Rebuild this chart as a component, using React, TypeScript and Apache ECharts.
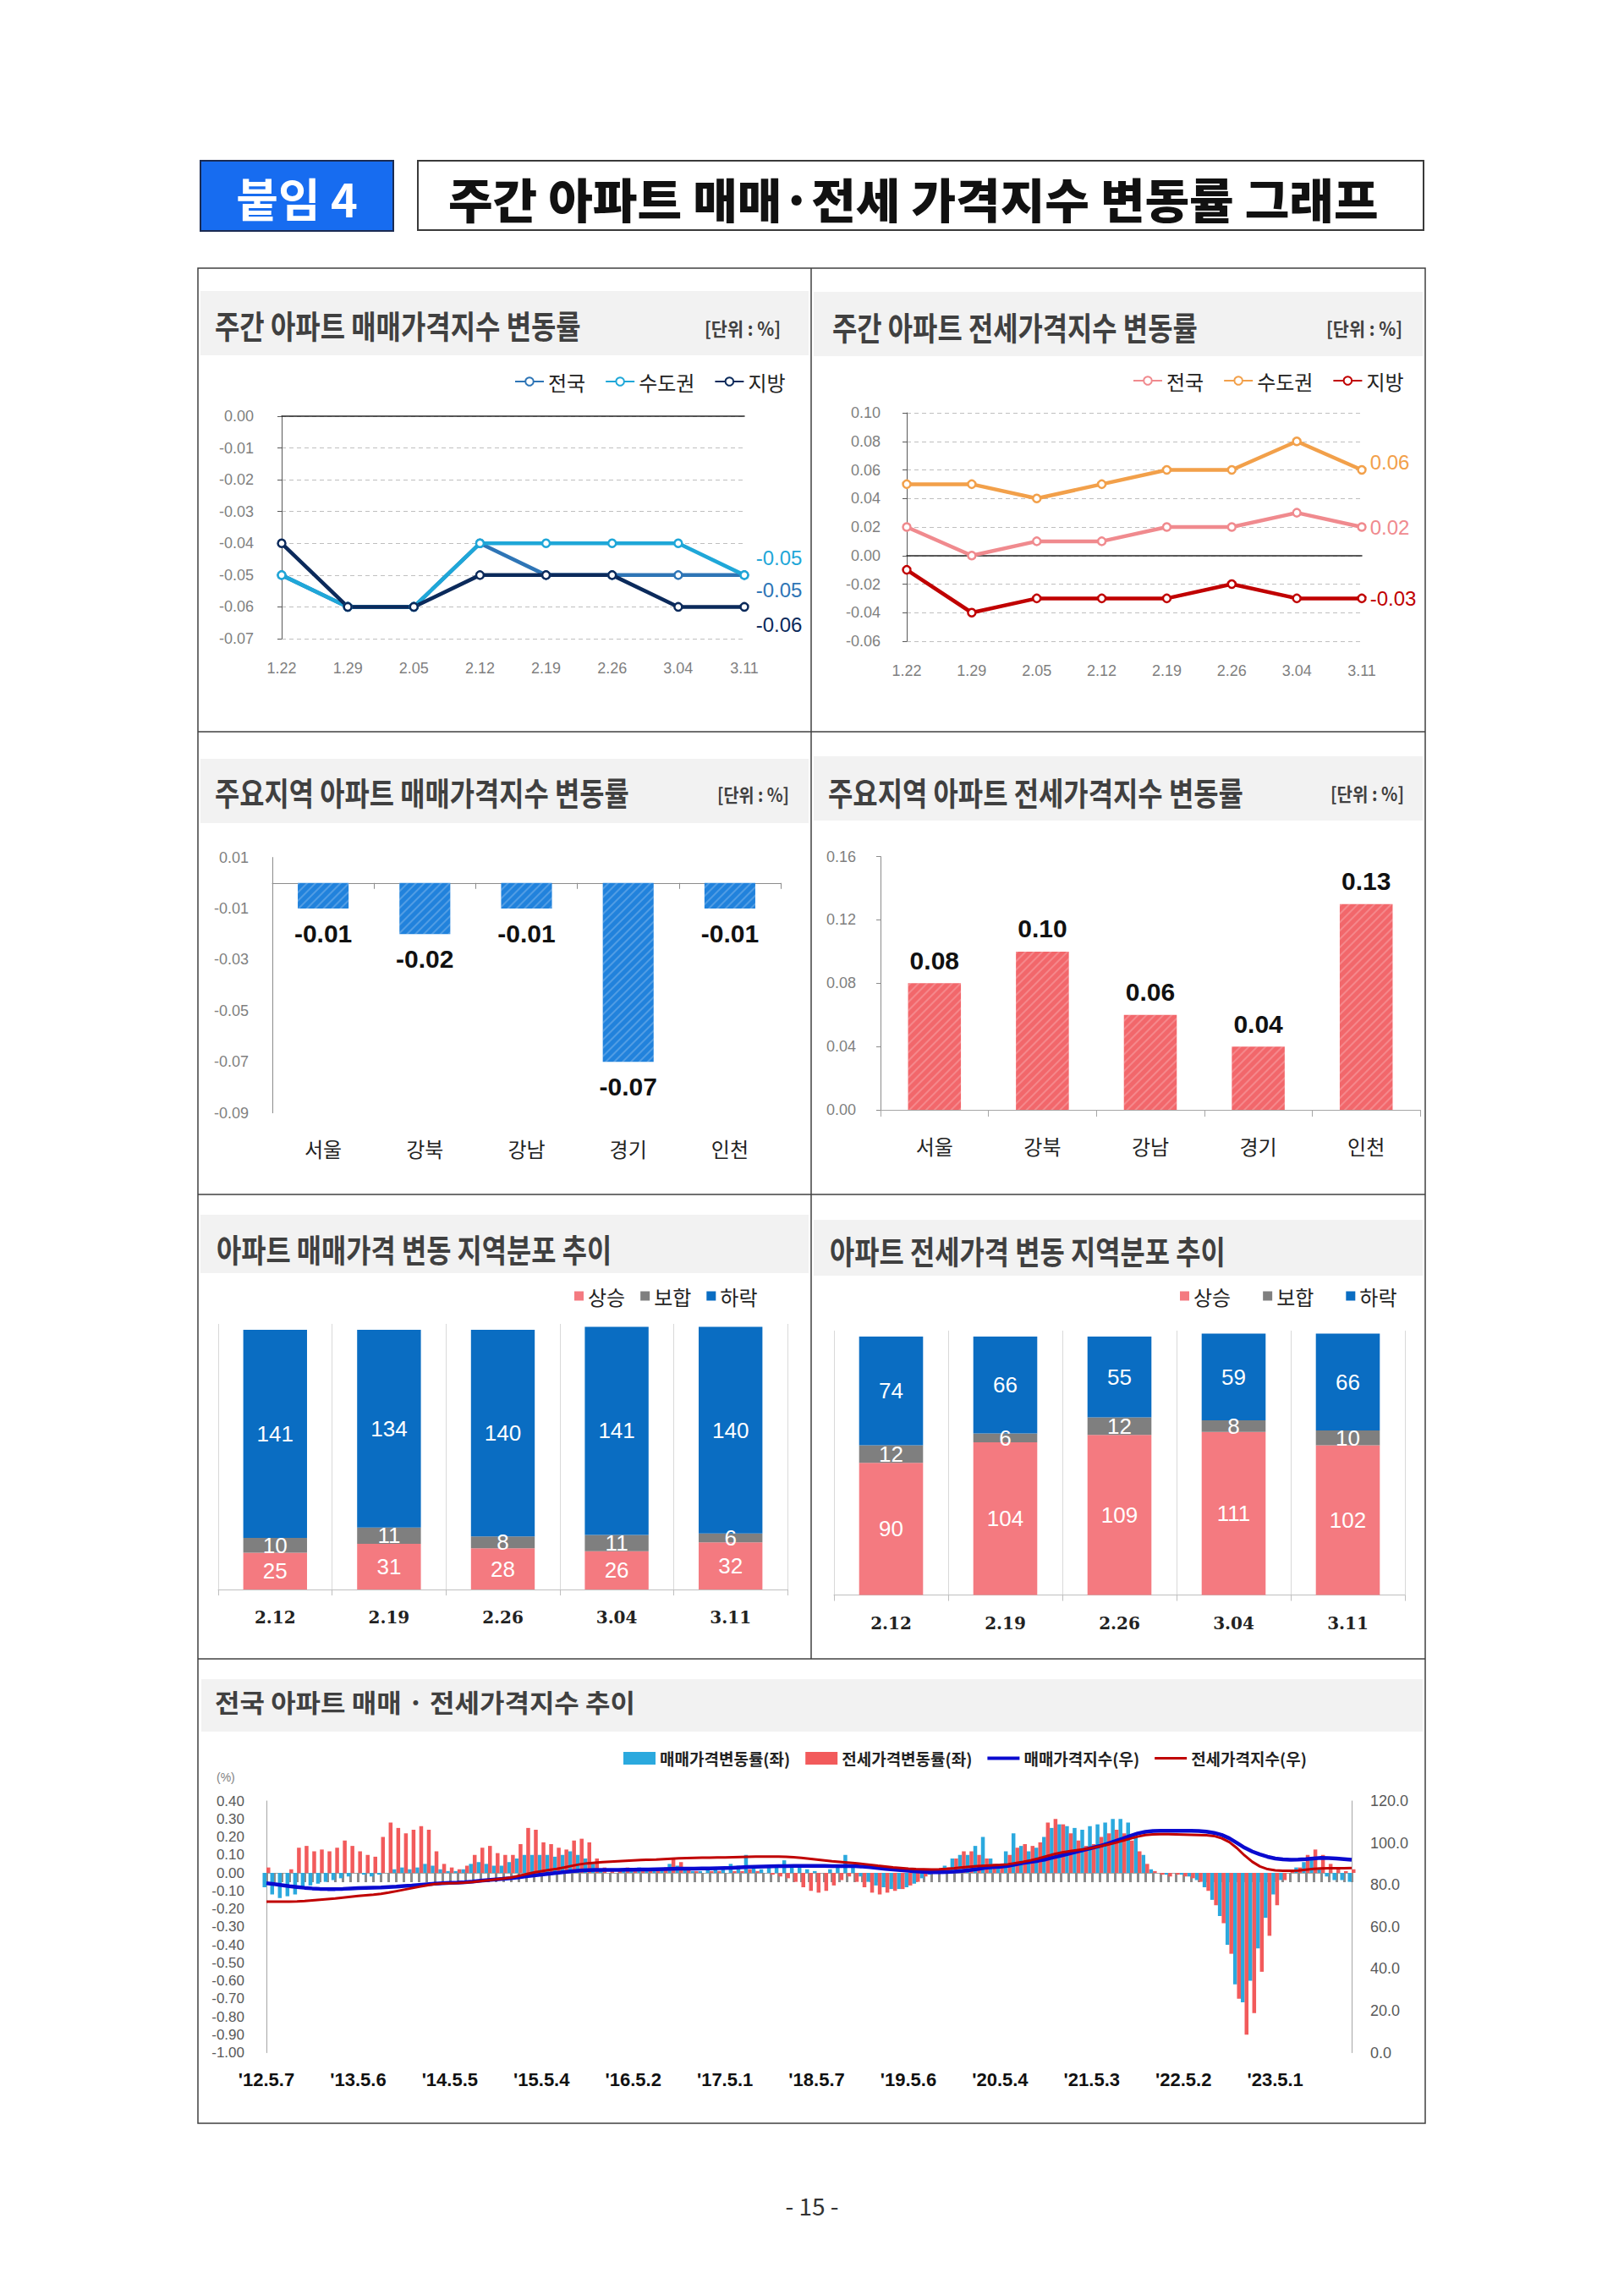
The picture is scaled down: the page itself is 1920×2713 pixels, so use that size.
import React, { useEffect, useRef } from 'react';
import * as echarts from 'echarts';

// ---------- data ----------
const weeks = ['1.22', '1.29', '2.05', '2.12', '2.19', '2.26', '3.04', '3.11'];
const saleNation = [-0.05, -0.06, -0.06, -0.04, -0.05, -0.05, -0.05, -0.05];
const saleCapital = [-0.05, -0.06, -0.06, -0.04, -0.04, -0.04, -0.04, -0.05];
const saleLocal = [-0.04, -0.06, -0.06, -0.05, -0.05, -0.05, -0.06, -0.06];
const jeonseNation = [0.02, 0.0, 0.01, 0.01, 0.02, 0.02, 0.03, 0.02];
const jeonseCapital = [0.05, 0.05, 0.04, 0.05, 0.06, 0.06, 0.08, 0.06];
const jeonseLocal = [-0.01, -0.04, -0.03, -0.03, -0.03, -0.02, -0.03, -0.03];

const regions = ['서울', '강북', '강남', '경기', '인천'];
const regionSale = [-0.01, -0.02, -0.01, -0.07, -0.01];
const regionJeonse = [0.08, 0.1, 0.06, 0.04, 0.13];

const distWeeks = ['2.12', '2.19', '2.26', '3.04', '3.11'];
const saleUp = [25, 31, 28, 26, 32];
const saleFlat = [10, 11, 8, 11, 6];
const saleDown = [141, 134, 140, 141, 140];
const jeonseUp = [90, 104, 109, 111, 102];
const jeonseFlat = [12, 6, 12, 8, 10];
const jeonseDown = [74, 66, 55, 59, 66];

// monthly, 2012.05 ~ 2024.03
const trendTickLabels = ["'12.5.7", "'13.5.6", "'14.5.5", "'15.5.4", "'16.5.2", "'17.5.1", "'18.5.7", "'19.5.6", "'20.5.4", "'21.5.3", "'22.5.2", "'23.5.1"];
const saleRate = [
  -0.08, -0.12, -0.14, -0.13, -0.12, -0.08, -0.07, -0.06,
  -0.05, -0.04, -0.03, -0.02, 0.0, -0.01, -0.02, -0.01, 0.0, 0.02, 0.03, 0.02,
  0.03, 0.05, 0.04, 0.02, 0.01, 0.01, 0.02, 0.05, 0.06, 0.05, 0.04, 0.04,
  0.06, 0.08, 0.1, 0.1, 0.1, 0.1, 0.09, 0.1, 0.12, 0.1, 0.08, 0.05,
  0.01, 0.0, 0.0, 0.01, 0.02, 0.03, 0.02, 0.02, 0.02, 0.05, 0.04, 0.02,
  0.01, 0.01, 0.02, 0.02, 0.03, 0.05, 0.04, 0.1, 0.03, 0.02, 0.03, 0.03,
  0.07, 0.04, 0.03, 0.02, 0.01, 0.0, 0.02, 0.04, 0.1, 0.03, -0.02, -0.05,
  -0.07, -0.08, -0.09, -0.09, -0.08, -0.06, -0.03, -0.01, 0.01, 0.04, 0.08, 0.1,
  0.1, 0.15, 0.2, 0.08, 0.05, 0.12, 0.22, 0.15, 0.12, 0.14, 0.2, 0.25,
  0.27, 0.26, 0.25, 0.24, 0.26, 0.27, 0.28, 0.3, 0.3, 0.28, 0.2, 0.1,
  0.02, 0.0, -0.01, 0.0, -0.01, -0.02, -0.04, -0.08, -0.15, -0.24, -0.4, -0.62,
  -0.72, -0.6, -0.42, -0.25, -0.12, -0.04, 0.0, 0.03, 0.06, 0.08, 0.03, -0.02,
  -0.04, -0.04, -0.05,
];
const jeonseRate = [
  0.03, 0.0, 0.0, 0.02, 0.14, 0.15, 0.12, 0.13,
  0.12, 0.14, 0.18, 0.15, 0.12, 0.1, 0.09, 0.2, 0.28, 0.25, 0.22, 0.24,
  0.26, 0.24, 0.12, 0.05, 0.03, 0.02, 0.04, 0.1, 0.14, 0.15, 0.11, 0.1,
  0.1, 0.16, 0.25, 0.24, 0.17, 0.16, 0.14, 0.13, 0.18, 0.19, 0.17, 0.08,
  0.03, 0.02, 0.02, 0.03, 0.02, 0.02, 0.01, 0.02, 0.03, 0.08, 0.06, 0.03,
  0.01, 0.0, 0.01, 0.01, 0.0, 0.01, 0.01, 0.02, 0.01, 0.0, -0.01, -0.02,
  -0.03, -0.05, -0.08, -0.1, -0.11, -0.1, -0.07, -0.04, -0.02, -0.05, -0.08, -0.11,
  -0.12, -0.11, -0.1, -0.09, -0.07, -0.05, -0.02, 0.0, 0.01, 0.03, 0.08, 0.12,
  0.12, 0.1, 0.08, 0.05, 0.05, 0.1, 0.14, 0.16, 0.15, 0.17, 0.28, 0.3,
  0.27, 0.22, 0.18, 0.15, 0.16, 0.2, 0.22, 0.24, 0.22, 0.18, 0.12, 0.05,
  0.01, -0.01, -0.02, -0.01, -0.02, -0.03, -0.05, -0.1, -0.18, -0.28, -0.45, -0.7,
  -0.9, -0.78, -0.55, -0.35, -0.18, -0.04, 0.01, 0.03, 0.1, 0.13, 0.1, 0.05,
  0.02, 0.01, 0.02,
];
const saleIndex = [
  80.8, 80.4, 79.9, 79.4, 79.0, 78.6, 78.3, 78.1,
  78.0, 78.0, 78.1, 78.3, 78.5, 78.6, 78.7, 78.8, 79.0, 79.2, 79.5, 79.7,
  80.0, 80.3, 80.6, 80.8, 81.0, 81.1, 81.3, 81.6, 82.0, 82.3, 82.6, 82.9,
  83.2, 83.6, 84.1, 84.5, 84.9, 85.3, 85.7, 86.1, 86.5, 86.8, 87.0, 87.1,
  87.1, 87.1, 87.1, 87.2, 87.2, 87.3, 87.3, 87.4, 87.5, 87.6, 87.7, 87.7,
  87.7, 87.8, 87.8, 87.9, 88.0, 88.1, 88.3, 88.5, 88.6, 88.7, 88.8, 88.9,
  88.9, 89.0, 89.0, 89.0, 89.0, 89.0, 88.9, 88.9, 89.0, 88.9, 88.7, 88.4,
  88.0, 87.6, 87.3, 87.0, 86.7, 86.4, 86.2, 86.0, 86.0, 86.1, 86.3, 86.6,
  87.0, 87.5, 88.1, 88.4, 88.6, 89.0, 89.7, 90.4, 90.9, 91.5, 92.2, 93.1,
  94.0, 94.9, 95.8, 96.7, 97.6, 98.5, 99.6, 100.8, 102.0, 103.3, 104.5, 105.3,
  105.7, 105.8, 105.8, 105.8, 105.8, 105.8, 105.7, 105.4, 104.8, 103.8, 102.2, 100.0,
  97.7, 95.9, 94.5, 93.4, 92.6, 92.2, 92.0, 92.1, 92.3, 92.6, 92.9, 92.8,
  92.6, 92.3, 92.0,
];
const jeonseIndex = [
  72.0, 72.0, 72.0, 72.0, 72.1, 72.3, 72.6, 72.9,
  73.2, 73.5, 73.9, 74.3, 74.7, 75.0, 75.3, 75.7, 76.3, 77.0, 77.7, 78.4,
  79.1, 79.8, 80.4, 80.7, 80.8, 80.9, 81.1, 81.4, 81.8, 82.2, 82.6, 83.0,
  83.5, 84.3, 85.1, 85.9, 86.5, 87.1, 87.6, 88.3, 89.1, 89.8, 90.3, 90.6,
  90.9, 91.1, 91.3, 91.5, 91.7, 91.9, 92.0, 92.1, 92.3, 92.5, 92.7, 92.8,
  92.9, 93.0, 93.0, 93.1, 93.1, 93.2, 93.3, 93.4, 93.5, 93.5, 93.5, 93.5,
  93.4, 93.2, 92.9, 92.5, 92.1, 91.7, 91.3, 91.0, 90.7, 90.4, 90.0, 89.6,
  89.1, 88.7, 88.3, 88.0, 87.7, 87.5, 87.4, 87.3, 87.4, 87.6, 87.9, 88.3,
  88.6, 88.9, 89.1, 89.3, 89.5, 89.8, 90.4, 91.0, 91.7, 92.6, 93.6, 94.6,
  95.4, 96.0, 96.5, 97.0, 97.6, 98.3, 99.1, 100.0, 101.0, 102.0, 103.0, 103.8,
  104.1, 104.2, 104.2, 104.1, 104.0, 103.9, 103.8, 103.7, 103.3, 102.2, 100.4, 97.5,
  94.0, 91.0, 88.8, 87.5, 86.9, 86.7, 86.7, 86.8, 87.2, 87.6, 87.8, 87.9,
  87.9, 87.9, 88.0,
];

// ---------- helpers ----------
const KR = '"Noto Sans CJK KR", "Noto Sans", sans-serif';
const NUM = '"Liberation Sans", Arial, "Noto Sans", sans-serif';
const SERIF = '"DejaVu Serif", "Liberation Serif", serif';

const trendMonths: string[] = saleRate.map((_, i) => {
  const m = 4 + i;
  return `${2012 + Math.floor(m / 12)}.${(m % 12) + 1}`;
});

let ctx: CanvasRenderingContext2D | null = null;
function textWidth(text: string, font: string) {
  if (!ctx) ctx = document.createElement('canvas').getContext('2d');
  if (!ctx) return 0;
  ctx.font = font;
  return ctx.measureText(text).width;
}
function fitText(text: string, x: number, y: number, width: number, size: number, weight: string, color: string, family = KR) {
  const natural = textWidth(text, `${weight} ${size}px ${family}`);
  const s = natural > 0 ? width / natural : 1;
  return {
    type: 'text', x, y, scaleX: s, scaleY: 1, z: 10,
    style: { text, fontSize: size, fontWeight: weight, fontFamily: family, fill: color, textAlign: 'left', textVerticalAlign: 'middle', align: 'left', verticalAlign: 'middle' },
  };
}
const f2 = (v: number) => (Math.abs(v) < 1e-9 ? '0.00' : v.toFixed(2));
const lastLabel = (n: number, color: string, offset: number[], distance: number) => ({
  show: true, position: 'right', distance, offset, color, fontSize: 24, fontFamily: NUM,
  formatter: (p: any) => (p.dataIndex === n - 1 ? f2(p.value) : ''),
});
const hatch = { symbol: 'rect', symbolSize: 1, color: 'rgba(255,255,255,0.22)', dashArrayX: [1, 0], dashArrayY: [2, 5], rotation: -Math.PI / 4 };
const lineIcon = 'path://M0,0 L40,0 L40,4 L0,4 Z';

function lineSeries(name: string, data: number[], color: string, xi: number, yi: number, offset: number[], distance: number) {
  return {
    type: 'line', name, data, xAxisIndex: xi, yAxisIndex: yi, clip: false,
    symbol: 'circle', symbolSize: 9,
    lineStyle: { color, width: 4.5 },
    itemStyle: { color: '#fff', borderColor: color, borderWidth: 2.5 },
    label: lastLabel(data.length, color, offset, distance),
    emphasis: { disabled: true },
  };
}

function buildOption() {
  const gridText = { color: '#7F7F7F', fontSize: 18, fontFamily: NUM };
  const dashed = { show: true, lineStyle: { color: '#BFBFBF', type: [5, 4], width: 1 } };
  const legendBase = { selectedMode: false, padding: 0, formatter: (n: string) => n.split('|')[1] };

  const bands = [
    { x: 237, y: 344, w: 719, h: 76, t: '주간 아파트 매매가격지수 변동률', tx: 254, ty: 383, tw: 433, size: 38, ux: 833, uy: 387, uw: 90 },
    { x: 962, y: 345, w: 720, h: 76, t: '주간 아파트 전세가격지수 변동률', tx: 984, ty: 385, tw: 432, size: 38, ux: 1568, uy: 387, uw: 90 },
    { x: 237, y: 897, w: 719, h: 76, t: '주요지역 아파트 매매가격지수 변동률', tx: 254, ty: 935, tw: 490, size: 38, ux: 848, uy: 938, uw: 85 },
    { x: 962, y: 894, w: 720, h: 76, t: '주요지역 아파트 전세가격지수 변동률', tx: 979, ty: 935, tw: 491, size: 38, ux: 1573, uy: 938, uw: 87 },
    { x: 237, y: 1436, w: 719, h: 69, t: '아파트 매매가격 변동 지역분포 추이', tx: 256, ty: 1475, tw: 467, size: 38 },
    { x: 962, y: 1442, w: 720, h: 66, t: '아파트 전세가격 변동 지역분포 추이', tx: 981, ty: 1477, tw: 468, size: 38 },
    { x: 238, y: 1985, w: 1444, h: 62, t: '전국 아파트 매매 · 전세가격지수 추이', tx: 254, ty: 2011, tw: 497, size: 30 },
  ];

  const graphics: any[] = [];
  // header
  graphics.push({ type: 'rect', shape: { x: 237, y: 190, width: 228, height: 83 }, style: { fill: '#176CF0', stroke: '#1B2B52', lineWidth: 2 } });
  graphics.push({
    type: 'text', x: 351, y: 233, z: 10,
    style: { text: '붙임 4', fontSize: 54, fontWeight: 'bold', fontFamily: KR, fill: '#fff', textAlign: 'center', textVerticalAlign: 'middle', align: 'center', verticalAlign: 'middle', textShadowColor: 'rgba(60,60,60,0.8)', textShadowOffsetX: 3, textShadowOffsetY: 3, textShadowBlur: 0 },
  });
  graphics.push({ type: 'rect', shape: { x: 494, y: 190, width: 1189, height: 82 }, style: { fill: '#fff', stroke: '#3A3A3A', lineWidth: 2 } });
  graphics.push(fitText('주간 아파트 매매·전세 가격지수 변동률 그래프', 530, 233, 1100, 56, '900', '#111'));
  // frame
  graphics.push({ type: 'rect', shape: { x: 234, y: 317, width: 1451, height: 2193 }, style: { fill: 'none', stroke: '#404040', lineWidth: 1.5 } });
  graphics.push({ type: 'line', shape: { x1: 959, y1: 317, x2: 959, y2: 1961 }, style: { stroke: '#404040', lineWidth: 1.5 } });
  [865, 1412, 1961].forEach((yy) => graphics.push({ type: 'line', shape: { x1: 234, y1: yy, x2: 1685, y2: yy }, style: { stroke: '#404040', lineWidth: 1.5 } }));
  // bands + titles
  bands.forEach((b: any) => {
    graphics.push({ type: 'rect', shape: { x: b.x, y: b.y, width: b.w, height: b.h }, style: { fill: '#F2F2F2' } });
    graphics.push(fitText(b.t, b.tx, b.ty, b.tw, b.size, 'bold', '#404040'));
    if (b.ux) graphics.push(fitText('[단위 : %]', b.ux, b.uy, b.uw, 22, 'bold', '#404040'));
  });
  graphics.push({ type: 'text', x: 256, y: 2101, style: { text: '(%)', fontSize: 14, fontFamily: NUM, fill: '#7F7F7F', textVerticalAlign: 'middle', verticalAlign: 'middle' } });
  graphics.push({ type: 'text', x: 960, y: 2607, style: { text: '- 15 -', fontSize: 28, fontFamily: KR, fill: '#333', textAlign: 'center', textVerticalAlign: 'middle', align: 'center', verticalAlign: 'middle' } });

  const catLabelAxis = (gi: number, data: string[], margin: number, extra: any = {}) => ({
    type: 'category', gridIndex: gi, data, position: 'bottom', boundaryGap: false,
    axisLine: { show: false, onZero: false }, axisTick: { show: false }, splitLine: { show: false },
    axisLabel: { ...gridText, margin }, ...extra,
  });
  const zeroAxis = (gi: number, data: string[], color: string, width: number, extra: any = {}) => ({
    type: 'category', gridIndex: gi, data, position: 'bottom', boundaryGap: false,
    axisLine: { show: true, onZero: true, lineStyle: { color, width } },
    axisTick: { show: false }, axisLabel: { show: false }, splitLine: { show: false }, ...extra,
  });

  return {
    animation: false,
    backgroundColor: '#fff',
    textStyle: { fontFamily: KR },
    graphic: { elements: graphics },
    grid: [
      { left: 333, top: 492, width: 547, height: 263, outerBoundsMode: 'none' },
      { left: 1072, top: 488, width: 538, height: 270, outerBoundsMode: 'none' },
      { left: 322, top: 1013.6, width: 601, height: 302, outerBoundsMode: 'none' },
      { left: 1041, top: 1012.6, width: 638, height: 299.4, outerBoundsMode: 'none' },
      { left: 258, top: 1565, width: 673, height: 314, outerBoundsMode: 'none' },
      { left: 986, top: 1573, width: 675, height: 312.5, outerBoundsMode: 'none' },
      { left: 315, top: 2129, width: 1283, height: 297.5, outerBoundsMode: 'none' },
    ],
    legend: [
      { ...legendBase, left: 608, top: 439, itemWidth: 34, itemHeight: 12, itemGap: 23, textStyle: { fontSize: 24, fontFamily: KR, color: '#222' }, data: ['P1|전국', 'P1|수도권', 'P1|지방'] },
      { ...legendBase, left: 1339, top: 438, itemWidth: 34, itemHeight: 12, itemGap: 23, textStyle: { fontSize: 24, fontFamily: KR, color: '#222' }, data: ['P2|전국', 'P2|수도권', 'P2|지방'] },
      { ...legendBase, left: 679, top: 1520, icon: 'rect', itemWidth: 11, itemHeight: 11, itemGap: 18, textStyle: { fontSize: 24, fontFamily: KR, color: '#222' }, data: ['P5|상승', 'P5|보합', 'P5|하락'] },
      { ...legendBase, left: 1395, top: 1520, icon: 'rect', itemWidth: 11, itemHeight: 11, itemGap: 38, textStyle: { fontSize: 24, fontFamily: KR, color: '#222' }, data: ['P6|상승', 'P6|보합', 'P6|하락'] },
      {
        selectedMode: false, padding: 0, left: 737, top: 2069, itemWidth: 38, itemHeight: 15, itemGap: 18,
        textStyle: { fontSize: 19, fontWeight: 'bold', fontFamily: KR, color: '#222' },
        data: [
          { name: '매매가격변동률(좌)', icon: 'rect' },
          { name: '전세가격변동률(좌)', icon: 'rect' },
          { name: '매매가격지수(우)', icon: lineIcon },
          { name: '전세가격지수(우)', icon: 'path://M0,0 L40,0 L40,3 L0,3 Z' },
        ],
      },
    ],
    xAxis: [
      catLabelAxis(0, weeks, 26), // 0
      zeroAxis(0, weeks, '#262626', 1.5), // 1
      catLabelAxis(1, weeks, 26), // 2
      zeroAxis(1, weeks, '#262626', 1.5), // 3
      catLabelAxis(2, regions, 30, { boundaryGap: true, axisLabel: { fontSize: 24, fontFamily: KR, color: '#222', margin: 30 } }), // 4
      zeroAxis(2, regions, '#8C8C8C', 1, { boundaryGap: true, axisTick: { show: true, interval: 0, length: 7, lineStyle: { color: '#8C8C8C' } } }), // 5
      {
        type: 'category', gridIndex: 3, data: regions, position: 'bottom', boundaryGap: true,
        axisLine: { show: true, lineStyle: { color: '#A6A6A6' } },
        axisTick: { show: true, interval: 0, length: 8, lineStyle: { color: '#A6A6A6' } },
        axisLabel: { fontSize: 24, fontFamily: KR, color: '#222', margin: 30 }, splitLine: { show: false },
      }, // 6
      {
        type: 'category', gridIndex: 4, data: distWeeks, position: 'bottom', boundaryGap: true,
        axisLine: { show: true, lineStyle: { color: '#BFBFBF' } },
        axisTick: { show: true, interval: 0, length: 7, lineStyle: { color: '#BFBFBF' } },
        splitLine: { show: true, interval: 0, lineStyle: { color: '#D9D9D9' } },
        axisLabel: { fontSize: 20, fontWeight: 'bold', fontFamily: SERIF, color: '#222', margin: 23 },
      }, // 7
      {
        type: 'category', gridIndex: 5, data: distWeeks, position: 'bottom', boundaryGap: true,
        axisLine: { show: true, lineStyle: { color: '#BFBFBF' } },
        axisTick: { show: true, interval: 0, length: 7, lineStyle: { color: '#BFBFBF' } },
        splitLine: { show: true, interval: 0, lineStyle: { color: '#D9D9D9' } },
        axisLabel: { fontSize: 20, fontWeight: 'bold', fontFamily: SERIF, color: '#222', margin: 23 },
      }, // 8
      zeroAxis(6, trendMonths, '#A6A6A6', 1, { axisTick: { show: true, interval: 0, length: 11, lineStyle: { color: '#8C8C8C', width: 3 } } }), // 9
      catLabelAxis(6, trendMonths, 21, {
        axisLabel: {
          fontSize: 22, fontWeight: 'bold', fontFamily: NUM, color: '#111', margin: 21, interval: 11,
          formatter: (_v: string, i: number) => trendTickLabels[Math.round(i / 12)] || '',
        },
      }), // 10
    ],
    yAxis: [
      {
        type: 'value', gridIndex: 0, min: -0.07, max: 0, interval: 0.01,
        axisLine: { show: true, lineStyle: { color: '#595959' } }, axisTick: { show: true, length: 5, lineStyle: { color: '#595959' } },
        splitLine: dashed, axisLabel: { ...gridText, margin: 33, formatter: f2 },
      },
      {
        type: 'value', gridIndex: 1, min: -0.06, max: 0.1, interval: 0.02,
        axisLine: { show: true, lineStyle: { color: '#595959' } }, axisTick: { show: true, length: 5, lineStyle: { color: '#595959' } },
        splitLine: dashed, axisLabel: { ...gridText, margin: 31, formatter: f2 },
      },
      {
        type: 'value', gridIndex: 2, min: -0.09, max: 0.01, interval: 0.01,
        axisLine: { show: true, lineStyle: { color: '#8C8C8C' } }, axisTick: { show: false }, splitLine: { show: false },
        axisLabel: { ...gridText, margin: 28, formatter: (v: number) => (Math.abs(Math.round(v * 100)) % 2 === 1 ? f2(v) : '') },
      },
      {
        type: 'value', gridIndex: 3, min: 0, max: 0.16, interval: 0.04,
        axisLine: { show: true, lineStyle: { color: '#8C8C8C' } }, axisTick: { show: true, length: 5, lineStyle: { color: '#8C8C8C' } }, splitLine: { show: false },
        axisLabel: { ...gridText, margin: 29, formatter: f2 },
      },
      { type: 'value', gridIndex: 4, min: 0, max: 180, show: false },
      { type: 'value', gridIndex: 5, min: 0, max: 180, show: false },
      {
        type: 'value', gridIndex: 6, min: -1, max: 0.4, interval: 0.1, position: 'left',
        axisLine: { show: true, lineStyle: { color: '#A6A6A6' } }, axisTick: { show: false }, splitLine: { show: false },
        axisLabel: { color: '#595959', fontSize: 17, fontFamily: NUM, margin: 26, formatter: f2 },
      },
      {
        type: 'value', gridIndex: 6, min: 0, max: 120, interval: 20, position: 'right',
        axisLine: { show: true, lineStyle: { color: '#A6A6A6' } }, axisTick: { show: false }, splitLine: { show: false },
        axisLabel: { color: '#595959', fontSize: 18, fontFamily: NUM, margin: 22, formatter: (v: number) => v.toFixed(1) },
      },
    ],
    series: [
      // P1
      lineSeries('P1|전국', saleNation, '#2E75B6', 0, 0, [0, 18], 8),
      lineSeries('P1|수도권', saleCapital, '#1FA7D8', 0, 0, [0, -20], 8),
      lineSeries('P1|지방', saleLocal, '#0B2A5B', 0, 0, [0, 21], 8),
      // P2
      lineSeries('P2|전국', jeonseNation, '#F08A8E', 2, 1, [0, 0], 4),
      lineSeries('P2|수도권', jeonseCapital, '#F2A04A', 2, 1, [0, -9], 4),
      lineSeries('P2|지방', jeonseLocal, '#C00000', 2, 1, [0, 0], 4),
      // P3
      {
        type: 'bar', name: '매매', data: regionSale, xAxisIndex: 4, yAxisIndex: 2, barWidth: '50%',
        itemStyle: { color: '#2182DC', decal: hatch },
        label: { show: true, position: 'bottom', distance: 14, fontSize: 30, fontWeight: 'bold', fontFamily: NUM, color: '#111', formatter: (p: any) => f2(p.value) },
      },
      // P4
      {
        type: 'bar', name: '전세', data: regionJeonse, xAxisIndex: 6, yAxisIndex: 3, barWidth: '49%',
        itemStyle: { color: '#F2676B', decal: hatch },
        label: { show: true, position: 'top', distance: 12, fontSize: 30, fontWeight: 'bold', fontFamily: NUM, color: '#111', formatter: (p: any) => f2(p.value) },
      },
      // P5
      ...[
        ['P5|상승', saleUp, '#F47A80'],
        ['P5|보합', saleFlat, '#7F7F7F'],
        ['P5|하락', saleDown, '#0A6DC2'],
      ].map(([name, data, color]: any) => ({
        type: 'bar', name, data, stack: 'p5', xAxisIndex: 7, yAxisIndex: 4, barWidth: '56%',
        itemStyle: { color },
        label: { show: true, position: 'inside', color: '#fff', fontSize: 26, fontFamily: NUM },
      })),
      // P6
      ...[
        ['P6|상승', jeonseUp, '#F47A80'],
        ['P6|보합', jeonseFlat, '#7F7F7F'],
        ['P6|하락', jeonseDown, '#0A6DC2'],
      ].map(([name, data, color]: any) => ({
        type: 'bar', name, data, stack: 'p6', xAxisIndex: 8, yAxisIndex: 5, barWidth: '56%',
        itemStyle: { color },
        label: { show: true, position: 'inside', color: '#fff', fontSize: 26, fontFamily: NUM },
      })),
      // P7
      { type: 'bar', name: '매매가격변동률(좌)', data: saleRate, xAxisIndex: 9, yAxisIndex: 6, barGap: '0%', barCategoryGap: '0%', itemStyle: { color: '#2BA9DE' } },
      { type: 'bar', name: '전세가격변동률(좌)', data: jeonseRate, xAxisIndex: 9, yAxisIndex: 6, barGap: '0%', barCategoryGap: '0%', itemStyle: { color: '#F25A5B' } },
      { type: 'line', name: '매매가격지수(우)', data: saleIndex, xAxisIndex: 9, yAxisIndex: 7, symbol: 'none', lineStyle: { color: '#0A0ACF', width: 4.5 }, itemStyle: { color: '#0A0ACF' } },
      { type: 'line', name: '전세가격지수(우)', data: jeonseIndex, xAxisIndex: 9, yAxisIndex: 7, symbol: 'none', lineStyle: { color: '#C00000', width: 3 }, itemStyle: { color: '#C00000' } },
    ],
  };
}

export default function App() {
  const ref = useRef<HTMLDivElement>(null);
  useEffect(() => {
    document.body.style.margin = '0';
    const chart = echarts.init(ref.current as HTMLDivElement, undefined, { renderer: 'svg' });
    chart.setOption(buildOption() as any);
    return () => chart.dispose();
  }, []);
  return <div ref={ref} style={{ width: 1920, height: 2713, background: '#fff' }} />;
}
